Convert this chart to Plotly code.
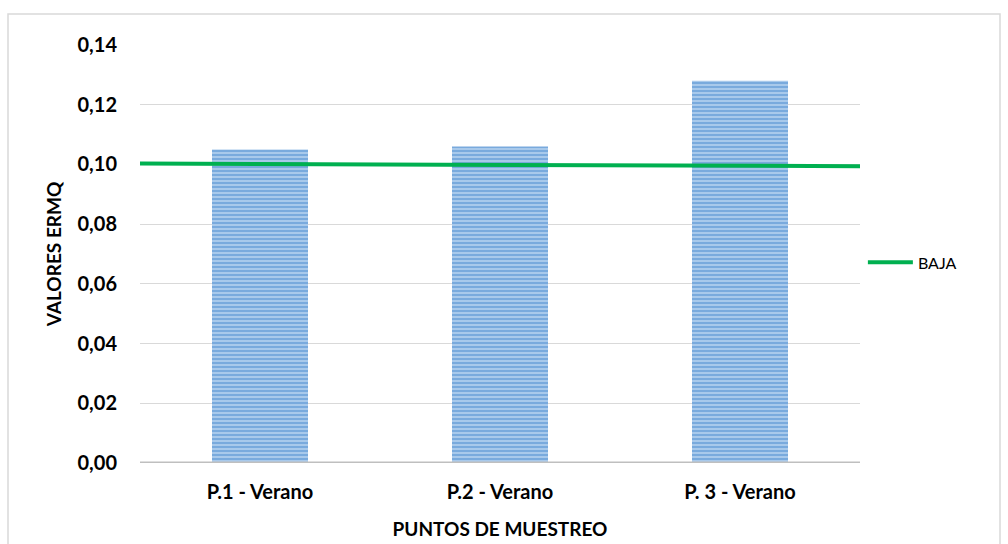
import plotly.graph_objects as go

# Sampling points and ERMQ values
categorias = ["P.1 - Verano", "P.2 - Verano", "P. 3 - Verano"]
valores_ermq = [0.105, 0.106, 0.128]

# "BAJA" reference level, drawn across the full width of the plot
baja_x = [-0.5, 2.5]
baja_y = [0.1003, 0.0994]

y_ticks = [0.0, 0.02, 0.04, 0.06, 0.08, 0.10, 0.12, 0.14]

FONT = "Lato"

fig = go.Figure()

fig.add_trace(go.Bar(
    x=list(range(len(categorias))),
    y=valores_ermq,
    width=0.4,
    showlegend=False,
    marker=dict(
        color="#B3D0EE",
        line=dict(width=0),
        pattern=dict(shape="-", size=4, solidity=0.6,
                     fgcolor="#3F84CC", bgcolor="#B3D0EE", fillmode="overlay"),
    ),
))

fig.add_trace(go.Scatter(
    x=baja_x,
    y=baja_y,
    mode="lines",
    name="BAJA",
    line=dict(color="#00B050", width=4),
))

fig.update_layout(
    width=1008,
    height=544,
    margin=dict(l=140, r=148, t=45, b=81),
    paper_bgcolor="white",
    plot_bgcolor="white",
    separators=",.",
    font=dict(family=FONT, color="#000000"),
    legend=dict(
        x=1.004, y=0.48, xanchor="left", yanchor="middle",
        itemwidth=45,
        font=dict(family=FONT, size=16, color="#000000"),
        bgcolor="rgba(0,0,0,0)",
    ),
    xaxis=dict(
        range=[-0.5, 2.5],
        automargin=False,
        tickmode="array",
        tickvals=list(range(len(categorias))),
        ticktext=["<b>%s</b>" % c for c in categorias],
        tickfont=dict(family=FONT, size=20, color="#000000"),
        showgrid=False,
        zeroline=False,
        showline=False,
        ticks="",
        ticklabelstandoff=15,
        title=dict(text="<b>PUNTOS DE MUESTREO</b>",
                   font=dict(family=FONT, size=19, color="#000000"),
                   standoff=20),
    ),
    yaxis=dict(
        range=[0, 0.14],
        automargin=False,
        tickmode="array",
        tickvals=y_ticks,
        ticktext=["<b>%s</b>" % ("%.2f" % v).replace(".", ",") for v in y_ticks],
        tickfont=dict(family=FONT, size=20, color="#000000"),
        showgrid=True,
        gridcolor="#D9D9D9",
        gridwidth=1,
        zeroline=False,
        showline=False,
        ticks="",
        ticklabelstandoff=22,
        title=dict(text="<b>VALORES ERMQ</b>",
                   font=dict(family=FONT, size=19, color="#000000"),
                   standoff=10),
    ),
    shapes=[
        # category axis baseline
        dict(type="line", xref="paper", yref="y", x0=0, x1=1, y0=0, y1=0,
             line=dict(color="#BFBFBF", width=3), layer="above"),
        # chart area border
        dict(type="rect", xref="paper", yref="paper",
             x0=(8 - 140) / 720, x1=(1000 - 140) / 720,
             y0=(463 - 560) / 418, y1=(463 - 14) / 418,
             line=dict(color="#D9D9D9", width=1.5), layer="below"),
    ],
)

fig.write_html("out.html")
